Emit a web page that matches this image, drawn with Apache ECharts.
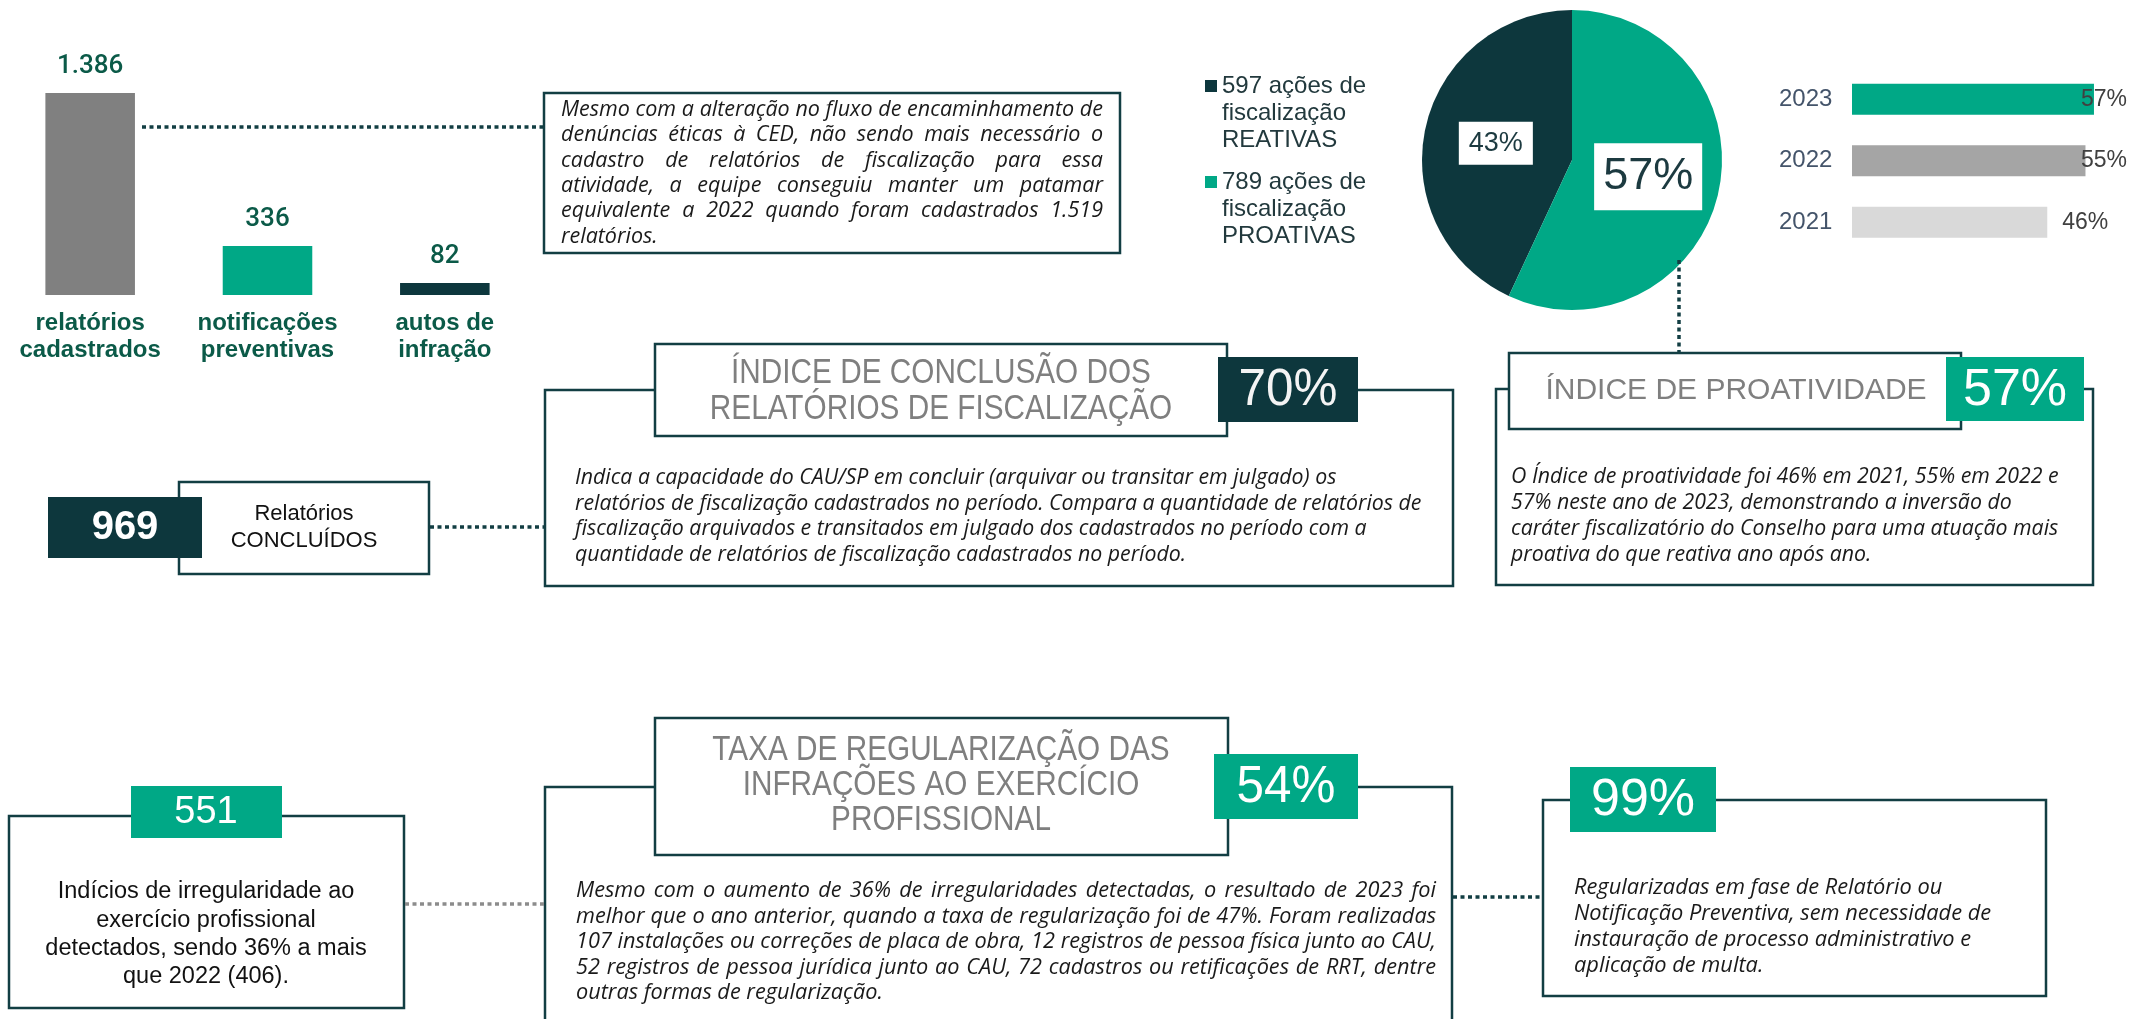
<!DOCTYPE html>
<html>
<head>
<meta charset="utf-8">
<script src="https://cdn.jsdelivr.net/npm/echarts/dist/echarts.min.js"></script>
<style>
  html, body { margin: 0; padding: 0; background: #ffffff; }
  #chart { width: 2131px; height: 1019px; }
</style>
</head>
<body>
<div id="chart"></div>
<script>
// --- data ---
const barCats = ['relatórios\ncadastrados', 'notificações\npreventivas', 'autos de\ninfração'];
const barValues = [1386, 336, 82];

const pieNames = ['REATIVAS', 'PROATIVAS'];
const pieValues = [597, 789];

const years = ['2023', '2022', '2021'];
const proactivity = [57, 55, 46];

const concluidos = 969;
const indiceConclusao = 70;
const indiceProatividade = 57;
const indicios = 551;
const taxaRegularizacao = 54;
const regularizadas = 99;

const box1Lines = [
  'Mesmo com a alteração no fluxo de encaminhamento de',
  'denúncias éticas à CED, não sendo mais necessário o',
  'cadastro de relatórios de fiscalização para essa',
  'atividade, a equipe conseguiu manter um patamar',
  'equivalente a 2022 quando foram cadastrados 1.519',
  'relatórios.'
];
const conclusaoLines = [
  'Indica a capacidade do CAU/SP em concluir (arquivar ou transitar em julgado) os',
  'relatórios de fiscalização cadastrados no período. Compara a quantidade de relatórios de',
  'fiscalização arquivados e transitados em julgado dos cadastrados no período com a',
  'quantidade de relatórios de fiscalização cadastrados no período.'
];
const proatLines = [
  'O Índice de proatividade foi 46% em 2021, 55% em 2022 e',
  '57% neste ano de 2023, demonstrando a inversão do',
  'caráter fiscalizatório do Conselho para uma atuação mais',
  'proativa do que reativa ano após ano.'
];
const taxaLines = [
  'Mesmo com o aumento de 36% de irregularidades detectadas, o resultado de 2023 foi',
  'melhor que o ano anterior, quando a taxa de regularização foi de 47%. Foram realizadas',
  '107 instalações ou correções de placa de obra, 12 registros de pessoa física junto ao CAU,',
  '52 registros de pessoa jurídica junto ao CAU, 72 cadastros ou retificações de RRT, dentre',
  'outras formas de regularização.'
];
const regLines = [
  'Regularizadas em fase de Relatório ou',
  'Notificação Preventiva, sem necessidade de',
  'instauração de processo administrativo e',
  'aplicação de multa.'
];
const indiciosLines = [
  'Indícios de irregularidade ao',
  'exercício profissional',
  'detectados, sendo 36% a mais',
  'que 2022 (406).'
];

// --- styles ---
const DARK = '#0d373d';
const GREEN = '#00a886';
const BORDER = '#123e43';
const TITLE = '#7f7f7f';
const SANS = '"Liberation Sans", Arial, sans-serif';
const BODY = '"Open Sans", sans-serif';
const barColors = ['#808080', GREEN, DARK];
const pieColors = [DARK, GREEN];
const pieLabelSizes = [27, 45];
const pieLabelPads = [[8, 10], [11, 9]];
const yearColors = [GREEN, '#a5a5a5', '#d9d9d9'];

const fmt = (v) => String(v).replace(/\B(?=(\d{3})+(?!\d))/g, '.');

const measureCtx = document.createElement('canvas').getContext('2d');
const textWidth = (str, font) => {
  measureCtx.font = font;
  return measureCtx.measureText(str).width;
};

const Z = 10;
const rect = (x, y, w, h, fill, stroke, z) => ({
  type: 'rect', silent: true, z: z,
  shape: { x: x, y: y, width: w, height: h },
  style: { fill: fill, stroke: stroke || null, lineWidth: stroke ? 2.5 : 0 }
});
const dots = (x1, y1, x2, y2, color) => ({
  type: 'line', silent: true, z: Z + 5,
  shape: { x1: x1, y1: y1, x2: x2, y2: y2 },
  style: { stroke: color, lineWidth: 3.5, lineDash: [4, 3.5] }
});
const label = (x, y, text, size, color, extra) => Object.assign({
  type: 'text', silent: true, z: Z + 6, x: x, y: y,
  style: Object.assign({
    text: text, fontSize: size, fontFamily: SANS, fill: color,
    align: 'center', verticalAlign: 'middle'
  }, (extra && extra.style) || {})
}, extra && extra.el ? extra.el : {});

// paragraph helper: optional justification and width fitting
function textBlock(b) {
  const out = [];
  const style = b.italic ? 'italic ' : '';
  const fam = b.family || BODY;
  const base = 20;
  const fontAt = (s) => style + s + 'px ' + fam;
  let size;
  if (b.justify) {
    const widest = Math.max(...b.lines.slice(0, -1).map(l => textWidth(l, fontAt(base))));
    size = base * b.width / widest;
  } else {
    size = base * b.width / textWidth(b.lines[b.fitLine], fontAt(base));
  }
  size = Math.floor(size * 10) / 10;
  const font = fontAt(size);
  b.lines.forEach((line, i) => {
    const y = b.y + i * b.lh;
    const st = { fontStyle: b.italic ? 'italic' : 'normal', fontFamily: fam, align: b.align || 'left' };
    if (!b.justify || i === b.lines.length - 1) {
      out.push(label(b.x, y, line, size, b.color || '#1a1a1a', { style: st }));
      return;
    }
    const words = line.split(' ');
    const widths = words.map(w => textWidth(w, font));
    const gap = (b.width - widths.reduce((a, c) => a + c, 0)) / (words.length - 1);
    let cx = b.x;
    words.forEach((w, k) => {
      out.push(label(cx, y, w, size, b.color || '#1a1a1a', { style: st }));
      cx += widths[k] + gap;
    });
  });
  return out;
}

const titleStyle = { style: { fontFamily: SANS }, el: { scaleX: 0.85 } };

const elements = [
  // box next to the bars
  rect(544, 93, 576, 160, '#ffffff', BORDER, Z),
  dots(142, 127, 543, 127, BORDER),

  // legend of the pie
  rect(1205, 80, 12, 12, pieColors[0], null, Z),
  label(1222, 72.5, fmt(pieValues[0]) + ' ações de\nfiscalização\n' + pieNames[0], 24, '#22393d',
    { style: { align: 'left', verticalAlign: 'top', lineHeight: 27 } }),
  rect(1205, 176, 12, 12, pieColors[1], null, Z),
  label(1222, 168.5, fmt(pieValues[1]) + ' ações de\nfiscalização\n' + pieNames[1], 24, '#22393d',
    { style: { align: 'left', verticalAlign: 'top', lineHeight: 27 } }),
  dots(1679, 260, 1679, 352, BORDER),

  // relatorios concluidos
  rect(179, 482, 250, 92, '#ffffff', BORDER, Z),
  rect(48, 497, 154, 61, DARK, null, Z + 1),
  label(125, 528, fmt(concluidos), 40, '#ffffff', { style: { fontWeight: 'bold' } }),
  label(304, 527, 'Relatórios\nCONCLUÍDOS', 22, '#111111', { style: { lineHeight: 27 } }),
  dots(430, 527, 544, 527, BORDER),

  // indice de conclusao
  rect(545, 390, 908, 196, '#ffffff', BORDER, Z),
  rect(655, 344, 572, 92, '#ffffff', BORDER, Z + 1),
  rect(1218, 357, 140, 65, DARK, null, Z + 2),
  label(941, 373, 'ÍNDICE DE CONCLUSÃO DOS', 35, TITLE, titleStyle),
  label(941, 409, 'RELATÓRIOS DE FISCALIZAÇÃO', 35, TITLE, titleStyle),
  label(1288, 391, indiceConclusao + '%', 52, '#f4f4f4', { el: { scaleX: 0.95 } }),

  // indice de proatividade
  rect(1496, 389, 597, 196, '#ffffff', BORDER, Z),
  rect(1509, 353, 452, 76, '#ffffff', BORDER, Z + 1),
  rect(1946, 357, 138, 64, GREEN, null, Z + 2),
  label(1736, 391, 'ÍNDICE DE PROATIVIDADE', 30, TITLE),
  label(2015, 391, indiceProatividade + '%', 52, '#ffffff'),

  // indicios
  rect(9, 816, 395, 192, '#ffffff', BORDER, Z),
  rect(131, 786, 151, 52, GREEN, null, Z + 1),
  label(206, 813, String(indicios), 38, '#ffffff'),
  dots(405, 904, 544, 904, '#8c8c8c'),

  // taxa de regularizacao
  rect(545, 787, 907, 260, '#ffffff', BORDER, Z),
  rect(655, 718, 573, 137, '#ffffff', BORDER, Z + 1),
  rect(1214, 754, 144, 65, GREEN, null, Z + 2),
  label(941, 750, 'TAXA DE REGULARIZAÇÃO DAS', 35, TITLE, titleStyle),
  label(941, 785, 'INFRAÇÕES AO EXERCÍCIO', 35, TITLE, titleStyle),
  label(941, 820, 'PROFISSIONAL', 35, TITLE, titleStyle),
  label(1286, 788, taxaRegularizacao + '%', 52, '#ffffff', { el: { scaleX: 0.95 } }),
  dots(1453, 897, 1542, 897, BORDER),

  // regularizadas
  rect(1543, 800, 503, 196, '#ffffff', BORDER, Z),
  rect(1570, 767, 146, 65, GREEN, null, Z + 1),
  label(1643, 801, regularizadas + '%', 52, '#ffffff')
].concat(
  textBlock({ lines: box1Lines, x: 561, y: 110, lh: 25.3, italic: true, justify: true, width: 542 }),
  textBlock({ lines: conclusaoLines, x: 575, y: 478, lh: 25.7, italic: true, fitLine: 1, width: 848 }),
  textBlock({ lines: proatLines, x: 1511, y: 477, lh: 26, italic: true, fitLine: 0, width: 548 }),
  textBlock({ lines: taxaLines, x: 576, y: 891, lh: 25.5, italic: true, justify: true, width: 860 }),
  textBlock({ lines: regLines, x: 1574, y: 888, lh: 26, italic: true, fitLine: 1, width: 418 }),
  textBlock({ lines: indiciosLines, x: 206, y: 892, lh: 28.3, family: SANS, align: 'center',
    fitLine: 2, width: 322, color: '#111111' })
);

const chart = echarts.init(document.getElementById('chart'), null, { renderer: 'canvas' });

chart.setOption({
  animation: false,
  backgroundColor: '#ffffff',
  grid: [
    { left: 1.5, top: 93, width: 532, height: 202, containLabel: false, outerBoundsMode: 'none' },
    { left: 1852, top: 68.5, width: 254.7, height: 184.5, containLabel: false, outerBoundsMode: 'none' }
  ],
  xAxis: [
    {
      gridIndex: 0, type: 'category', data: barCats,
      axisLine: { show: false }, axisTick: { show: false },
      axisLabel: {
        interval: 0, margin: 15, fontSize: 24, fontWeight: 'bold', lineHeight: 27,
        color: '#0b5a48', fontFamily: SANS
      }
    },
    {
      gridIndex: 1, type: 'value', min: 0, max: 60, show: false,
      splitLine: { show: false }
    }
  ],
  yAxis: [
    { gridIndex: 0, type: 'value', min: 0, max: 1386, show: false, splitLine: { show: false } },
    {
      gridIndex: 1, type: 'category', data: years, inverse: true,
      axisLine: { show: false }, axisTick: { show: false }, splitLine: { show: false },
      axisLabel: { align: 'left', margin: 73, fontSize: 24, color: '#44546a', fontFamily: SANS }
    }
  ],
  series: [
    {
      type: 'bar', xAxisIndex: 0, yAxisIndex: 0, barWidth: '50.5%', silent: true,
      data: barValues.map((v, i) => ({ value: v, itemStyle: { color: barColors[i] } })),
      label: {
        show: true, position: 'top', distance: 14, fontSize: 26, fontWeight: 500, color: '#0b5a48',
        fontFamily: 'Roboto, ' + SANS, textBorderWidth: 0, formatter: (p) => fmt(p.value)
      }
    },
    {
      type: 'pie', center: [1572, 160], radius: 150, startAngle: 90, clockwise: false,
      silent: true, avoidLabelOverlap: false,
      itemStyle: { borderWidth: 0 },
      labelLine: { show: false },
      data: pieValues.map((v, i) => ({
        value: v, name: pieNames[i], itemStyle: { color: pieColors[i] },
        label: {
          fontSize: pieLabelSizes[i], lineHeight: pieLabelSizes[i], padding: pieLabelPads[i]
        }
      })),
      label: {
        show: true, position: 'inside', color: '#1c3a40', backgroundColor: '#ffffff',
        fontFamily: SANS, textBorderWidth: 0,
        formatter: (p) => Math.round(p.percent) + '%'
      }
    },
    {
      type: 'bar', xAxisIndex: 1, yAxisIndex: 1, barWidth: 31, silent: true,
      data: proactivity.map((v, i) => ({ value: v, itemStyle: { color: yearColors[i] } })),
      label: {
        show: true, position: 'right', distance: 15, fontSize: 23, color: '#404040',
        fontFamily: SANS, textBorderWidth: 0, formatter: '{c}%'
      },
      labelLayout: (params) => {
        const r = params.labelRect;
        const over = r.x + r.width - 2127;
        return over > 0 ? { dx: -over } : {};
      }
    }
  ],
  graphic: { elements: elements }
});
</script>
</body>
</html>
